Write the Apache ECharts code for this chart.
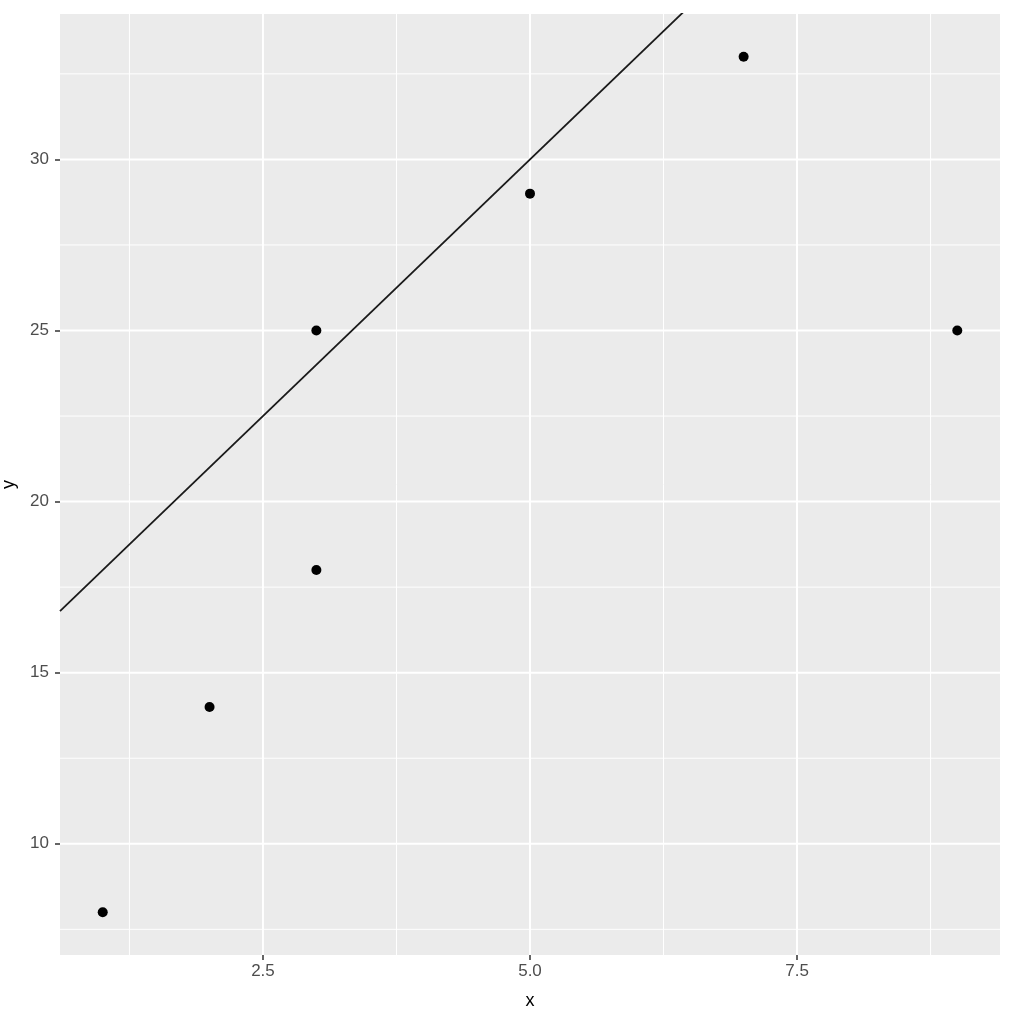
<!DOCTYPE html>
<html>
<head>
<meta charset="utf-8">
<script src="https://cdn.jsdelivr.net/npm/echarts@6/dist/echarts.min.js"></script>
<style>
html,body{margin:0;padding:0;background:#fff;}
#chart{width:1024px;height:1017px;}
</style>
</head>
<body>
<div id="chart"></div>
<script>
// Data
const xValues = [1, 2, 3, 3, 5, 7, 9];
const yValues = [8, 14, 18, 25, 29, 33, 25];
const ablineIntercept = 15;
const ablineSlope = 3;
// Axis ranges and ticks
const xMin = 0.6, xMax = 9.4;
const yMin = 6.75, yMax = 34.25;
const xMajorTicks = [2.5, 5.0, 7.5];
const xMinorTicks = [1.25, 3.75, 6.25, 8.75];
const yMajorTicks = [10, 15, 20, 25, 30];
const yMinorTicks = [7.5, 12.5, 17.5, 22.5, 27.5, 32.5];

const points = xValues.map((x, i) => [x, yValues[i]]);
const ablineData = [[xMin, ablineIntercept + ablineSlope * xMin], [xMax, ablineIntercept + ablineSlope * xMax]];

function vLine(v, w) {
  return {type: 'line', data: [[v, yMin], [v, yMax]], showSymbol: false, silent: true, z: 1,
    lineStyle: {color: '#FFFFFF', width: w}, emphasis: {disabled: true}};
}
function hLine(v, w) {
  return {type: 'line', data: [[xMin, v], [xMax, v]], showSymbol: false, silent: true, z: 1,
    lineStyle: {color: '#FFFFFF', width: w}, emphasis: {disabled: true}};
}
const gridSeries = []
  .concat(xMinorTicks.map(v => vLine(v, 1)))
  .concat(yMinorTicks.map(v => hLine(v, 1)))
  .concat(xMajorTicks.map(v => vLine(v, 2)))
  .concat(yMajorTicks.map(v => hLine(v, 2)));

const chart = echarts.init(document.getElementById('chart'), null, {renderer: 'canvas'});
const FONT = 'Liberation Sans, Arial, sans-serif';
const labelStyle = {color: '#4D4D4D', fontSize: 17, fontFamily: FONT};
chart.setOption({
  animation: false,
  backgroundColor: '#ffffff',
  grid: {left: 60, right: 24, top: 14, bottom: 62, show: true, backgroundColor: '#EBEBEB', borderWidth: 0,
    containLabel: false, outerBoundsMode: 'none'},
  xAxis: {
    type: 'value', min: xMin, max: xMax,
    name: 'x', nameLocation: 'middle', nameGap: 37,
    nameTextStyle: {color: '#000', fontSize: 18, fontFamily: FONT},
    axisLine: {show: false},
    axisTick: {show: true, length: 5, customValues: xMajorTicks, lineStyle: {color: '#333', width: 1.5}},
    axisLabel: Object.assign({customValues: xMajorTicks, margin: 8, formatter: v => v.toFixed(1)}, labelStyle),
    splitLine: {show: false}
  },
  yAxis: {
    type: 'value', min: yMin, max: yMax,
    name: 'y', nameLocation: 'middle', nameGap: 42, nameRotate: 90,
    nameTextStyle: {color: '#000', fontSize: 18, fontFamily: FONT},
    axisLine: {show: false},
    axisTick: {show: true, length: 5, customValues: yMajorTicks, lineStyle: {color: '#333', width: 1.5}},
    axisLabel: Object.assign({customValues: yMajorTicks, margin: 11, formatter: v => String(v)}, labelStyle),
    splitLine: {show: false}
  },
  series: gridSeries.concat([
    {
      type: 'scatter', data: points, symbol: 'circle', symbolSize: 10, z: 3,
      itemStyle: {color: '#000000', opacity: 1}
    },
    {
      type: 'line', data: ablineData, showSymbol: false, clip: true, z: 4, silent: true,
      lineStyle: {color: '#1a1a1a', width: 1.8}
    }
  ])
});
</script>
</body>
</html>
